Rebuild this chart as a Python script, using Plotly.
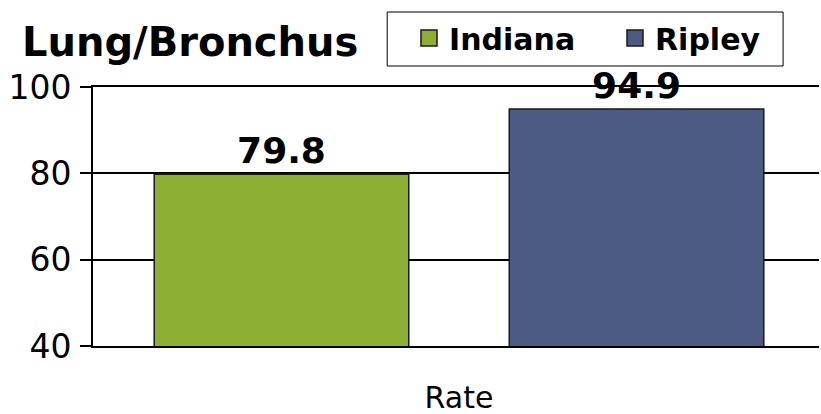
import plotly.graph_objects as go

categories = ["Rate"]
series_names = ["Indiana", "Ripley"]
indiana_values = [79.8]
ripley_values = [94.9]
bar_colors = ["#8DB034", "#4B5B83"]
y_ticks = [40, 60, 80, 100]

FONT = "DejaVu Sans"
EDGE = "#1a1a1a"

# plot-area geometry in pixels, used to place the legend frame in paper units
W, H = 821, 414
ML, MR, MT, MB = 93, 0, 87, 68
PW, PH = W - ML - MR, H - MT - MB


def px_x(p):
    return (p - ML) / PW


def px_y(p):
    return (H - MB - p) / PH


fig = go.Figure()
for name, vals, color in zip(series_names, [indiana_values, ripley_values], bar_colors):
    fig.add_trace(go.Bar(
        name=name,
        x=categories,
        y=vals,
        marker=dict(color=color, line=dict(color=EDGE, width=1.5)),
        text=[f"{v:.1f}" for v in vals],
        textposition="outside",
        textfont=dict(family=FONT, size=36, color="#000000", weight="bold"),
        cliponaxis=False,
        showlegend=False,
    ))

# legend keys: larger square swatches than the default bar symbol
for name, color in zip(series_names, bar_colors):
    fig.add_trace(go.Scatter(
        name=name,
        x=[None], y=[None],
        mode="markers",
        marker=dict(symbol="square", size=20, color=color, line=dict(color=EDGE, width=1.5)),
        showlegend=True,
    ))

# white framed box behind the legend entries
fig.add_shape(
    type="rect", xref="paper", yref="paper",
    x0=px_x(388), x1=px_x(785), y0=px_y(66), y1=px_y(12),
    line=dict(color="#000000", width=1), fillcolor="white", layer="above",
)

fig.update_layout(
    width=W,
    height=H,
    margin=dict(l=ML, r=MR, t=MT, b=MB),
    paper_bgcolor="white",
    plot_bgcolor="white",
    barmode="group",
    bargap=0.03,
    bargroupgap=0.283,
    title=dict(
        text="<b>Lung/Bronchus</b>",
        x=22 / W, xanchor="left",
        y=1 - 42 / H, yanchor="middle",
        font=dict(family=FONT, size=40, color="#000000"),
    ),
    legend=dict(
        orientation="h",
        x=px_x(410), xanchor="left",
        y=px_y(12), yanchor="top",
        bgcolor="rgba(0,0,0,0)",
        borderwidth=0,
        font=dict(family=FONT, size=30, color="#000000", weight="bold"),
        itemwidth=30,
        entrywidth=161,
        entrywidthmode="pixels",
    ),
    xaxis=dict(
        range=[-0.5, 0.4918],
        showline=True,
        mirror=True,
        linecolor="#000000",
        linewidth=2,
        showgrid=False,
        ticks="",
        tickfont=dict(family=FONT, size=30, color="#000000"),
        ticklabelstandoff=24,
        automargin=False,
    ),
    yaxis=dict(
        range=[40, 100],
        tickvals=y_ticks,
        showline=True,
        linecolor="#000000",
        linewidth=2,
        ticks="outside",
        ticklen=11,
        tickwidth=2,
        tickcolor="#000000",
        showgrid=True,
        gridcolor="#000000",
        gridwidth=2,
        zeroline=False,
        tickfont=dict(family=FONT, size=33, color="#000000"),
        ticklabelstandoff=2,
        automargin=False,
    ),
)

fig.write_html("out.html")
